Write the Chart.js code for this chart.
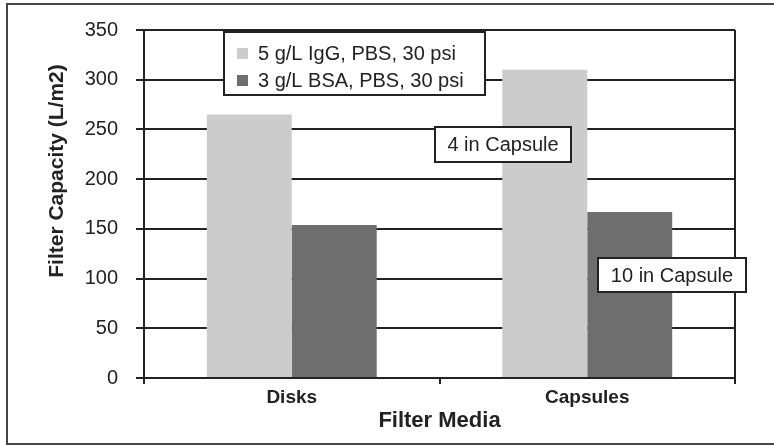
<!DOCTYPE html>
<html>
<head>
<meta charset="utf-8">
<script src="https://cdn.jsdelivr.net/npm/chart.js@4/dist/chart.umd.min.js"></script>
<style>
  html, body { margin: 0; padding: 0; background: #fff; overflow: hidden; }
  #wrap { position: relative; width: 774px; height: 445px; }
  #frame { position: absolute; left: 6px; top: 3px; width: 780px; height: 438px; border: 2px solid #444; pointer-events: none; }
</style>
</head>
<body>
<div id="wrap">
  <canvas id="chart" width="774" height="445"></canvas>
  <div id="frame"></div>
</div>
<script>
const categories = ['Disks', 'Capsules'];
const seriesLabels = ['5 g/L IgG, PBS, 30 psi', '3 g/L BSA, PBS, 30 psi'];
const iggValues = [265, 310];
const bsaValues = [154, 167];
const seriesColors = ['#cccccc', '#6e6e6e'];
const yTicks = [0, 50, 100, 150, 200, 250, 300, 350];
const notes = ['4 in Capsule', '10 in Capsule'];

const FONT = "'Liberation Sans', Arial, Helvetica, sans-serif";
const INK = '#222';

// legend box, y title and the two text callouts
const extras = {
  id: 'extras',
  afterDraw(chart) {
    const ctx = chart.ctx;
    ctx.save();

    // y axis title (sits above centre in the original)
    ctx.save();
    ctx.translate(57, 171);
    ctx.rotate(-Math.PI / 2);
    ctx.font = 'bold 21px ' + FONT;
    ctx.fillStyle = INK;
    ctx.textAlign = 'center';
    ctx.textBaseline = 'middle';
    ctx.fillText('Filter Capacity (L/m2)', 0, 0);
    ctx.restore();

    // legend
    ctx.fillStyle = '#fff';
    ctx.fillRect(224, 32, 261, 63);
    ctx.strokeStyle = INK;
    ctx.lineWidth = 2;
    ctx.strokeRect(224, 32, 261, 63);
    ctx.font = '20px ' + FONT;
    ctx.textBaseline = 'middle';
    ctx.textAlign = 'left';
    chart.data.datasets.forEach((ds, i) => {
      const y = 53 + i * 27;
      ctx.fillStyle = ds.backgroundColor;
      ctx.fillRect(237, y - 5, 11, 11);
      ctx.fillStyle = INK;
      ctx.fillText(ds.label, 258, y + 1);
    });

    // callouts
    const boxes = [
      { text: notes[0], x: 435, y: 127, w: 136, h: 35 },
      { text: notes[1], x: 598, y: 258, w: 148, h: 34 },
    ];
    boxes.forEach((b) => {
      ctx.fillStyle = '#fff';
      ctx.fillRect(b.x, b.y, b.w, b.h);
      ctx.strokeStyle = INK;
      ctx.lineWidth = 2;
      ctx.strokeRect(b.x, b.y, b.w, b.h);
      ctx.fillStyle = INK;
      ctx.textAlign = 'center';
      ctx.fillText(b.text, b.x + b.w / 2, b.y + b.h / 2 + 1);
    });

    ctx.restore();
  },
};

new Chart(document.getElementById('chart'), {
  type: 'bar',
  data: {
    labels: categories,
    datasets: [
      { label: seriesLabels[0], data: iggValues, backgroundColor: seriesColors[0], borderWidth: 0 },
      { label: seriesLabels[1], data: bsaValues, backgroundColor: seriesColors[1], borderWidth: 0 },
    ],
  },
  options: {
    responsive: false,
    animation: false,
    events: [],
    categoryPercentage: 0.575,
    barPercentage: 1.0,
    layout: { padding: { left: 0, top: 21, right: 39, bottom: 0 } },
    scales: {
      x: {
        afterFit: (scale) => { scale.height = 67; },
        grid: {
          display: true,
          drawOnChartArea: true,
          color: (c) => (c.index === 1 ? 'rgba(0,0,0,0)' : INK),
          tickColor: INK,
          lineWidth: 2,
          tickLength: 6,
        },
        border: { color: INK, width: 2 },
        ticks: {
          color: INK,
          padding: 2,
          font: { family: FONT, size: 19, weight: 'bold' },
        },
        title: {
          display: true,
          text: 'Filter Media',
          color: INK,
          padding: { top: 0, bottom: 11 },
          font: { family: FONT, size: 22, weight: 'bold' },
        },
      },
      y: {
        min: 0,
        max: 350,
        afterFit: (scale) => { scale.width = 144; },
        afterBuildTicks: (scale) => { scale.ticks = yTicks.map((v) => ({ value: v })); },
        grid: { color: INK, lineWidth: 2, tickLength: 8 },
        border: { color: INK, width: 2 },
        ticks: {
          color: INK,
          padding: 18,
          font: { family: FONT, size: 20 },
        },
      },
    },
    plugins: {
      legend: { display: false },
      tooltip: { enabled: false },
    },
  },
  plugins: [extras],
});
</script>
</body>
</html>
